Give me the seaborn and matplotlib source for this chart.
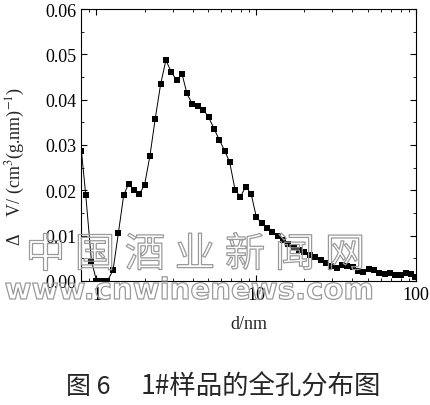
import matplotlib

matplotlib.use("Agg")

import matplotlib.patheffects as pe
import matplotlib.pyplot as plt
import numpy as np
import pandas as pd
import seaborn as sns
from matplotlib.ticker import FixedLocator, LogLocator, MultipleLocator, NullFormatter

# pore diameter (nm) and incremental pore volume
diameter = [
    0.805, 0.857, 0.93, 1.0, 1.08, 1.17, 1.27, 1.37, 1.48, 1.59,
    1.71, 1.85, 2.0, 2.16, 2.33, 2.52, 2.72, 2.94, 3.17, 3.43,
    3.68, 3.98, 4.32, 4.67, 5.04, 5.44, 5.88, 6.35, 6.82, 7.37,
    7.96, 8.59, 9.28, 10.0, 10.8, 11.7, 12.6, 13.6, 14.7, 15.9,
    17.2, 18.6, 20.0, 21.6, 23.4, 25.3, 27.3, 29.5, 31.8, 34.4,
    37.1, 40.1, 43.3, 46.7, 50.5, 54.5, 58.9, 63.6, 68.7, 74.2,
    80.1, 86.5, 93.4, 99.0,
]
dv = [
    0.0287, 0.0189, 0.0044, 0.0001, 0.0000, 0.0000, 0.0024, 0.0105, 0.0189, 0.0215,
    0.0201, 0.0191, 0.0212, 0.0276, 0.0357, 0.0434, 0.0487, 0.0461, 0.0443, 0.0457,
    0.0414, 0.0390, 0.0387, 0.0378, 0.0361, 0.0336, 0.0311, 0.0287, 0.0262, 0.0201,
    0.0186, 0.0208, 0.0193, 0.0142, 0.0127, 0.0118, 0.0109, 0.0099, 0.0091, 0.0081,
    0.0074, 0.0068, 0.0063, 0.0057, 0.0052, 0.0046, 0.0040, 0.0032, 0.0029, 0.0035,
    0.0033, 0.0031, 0.0022, 0.0020, 0.0026, 0.0024, 0.0017, 0.0016, 0.0018, 0.0014,
    0.0013, 0.0017, 0.0015, 0.0009,
]
y_ticks = [0.00, 0.01, 0.02, 0.03, 0.04, 0.05, 0.06]
x_ticks = [1, 10, 100]
watermark_cn = "中国酒业新闻网"
watermark_url = "www.cnwinenews.com"

sns.set_theme(style="ticks")
plt.rcParams["font.family"] = ["Liberation Serif", "Noto Sans CJK SC", "DejaVu Sans"]
plt.rcParams["mathtext.fontset"] = "stix"

df = pd.DataFrame({"d": diameter, "dv": dv})

fig = plt.figure(figsize=(4.30, 4.06), dpi=100)
ax = fig.add_axes([81 / 430, 1 - 282 / 406, 335 / 430, 272 / 406])

sns.lineplot(
    data=df, x="d", y="dv", ax=ax, color="black", lw=0.7,
    marker="s", markersize=5, markeredgewidth=0, markerfacecolor="black",
)

ax.set_xscale("log")
ax.set_xlim(0.8, 100)
ax.set_ylim(0, 0.06)
ax.xaxis.set_major_locator(FixedLocator(x_ticks))
ax.set_xticklabels([str(t) for t in x_ticks])
ax.xaxis.set_minor_locator(LogLocator(base=10, subs=np.arange(2, 10)))
ax.xaxis.set_minor_formatter(NullFormatter())
ax.set_yticks(y_ticks)
ax.set_yticklabels([f"{t:.2f}" for t in y_ticks])
ax.yaxis.set_minor_locator(MultipleLocator(0.005))

ax.tick_params(which="both", direction="in", top=True, right=True, labelsize=13, colors="black")
ax.tick_params(which="major", length=4, width=0.8)
ax.tick_params(which="minor", length=2.5, width=0.6)
for s in ax.spines.values():
    s.set_color("black")
    s.set_linewidth(0.8)

ax.set_xlabel("d/nm", fontsize=13, labelpad=9)
ax.set_ylabel("")
fig.text(15 / 430, 1 - 166 / 406, r"Δ    V/ (cm$^3$(g.nm)$^{-1}$)",
         rotation=90, ha="center", va="center", fontsize=13)

cjk = ["Noto Sans CJK SC", "DejaVu Sans"]
fig.text(66 / 430, 1 - 387 / 406, "图 6", ha="left", va="center", fontsize=18, family=cjk)
fig.text(141 / 430, 1 - 387 / 406, "1#样品的全孔分布图", ha="left", va="center",
         fontsize=19, family=cjk)

# faint outlined watermark
outline = [pe.Stroke(linewidth=0.9, foreground="#9a9a9a"), pe.Normal()]
for i, ch in enumerate(watermark_cn):
    fig.text((45 + 50 * i) / 430, 1 - 256 / 406, ch, ha="center", va="center",
             fontsize=29, color=(1, 1, 1, 0), family=["Noto Sans CJK SC"],
             path_effects=outline, zorder=5)
fig.text(189 / 430, 1 - 292 / 406, watermark_url, ha="center", va="center",
         fontsize=21, color=(1, 1, 1, 0), family=["DejaVu Sans"], weight="bold",
         path_effects=outline, zorder=5)

fig.savefig("out.png", dpi=100)
